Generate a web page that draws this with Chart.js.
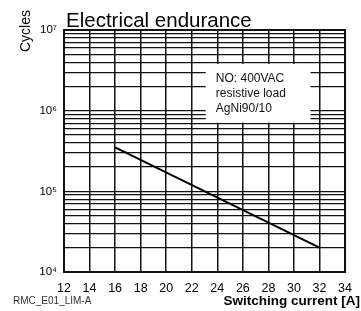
<!DOCTYPE html>
<html>
<head>
<meta charset="utf-8">
<script src="https://cdn.jsdelivr.net/npm/chart.js@4"></script>
<style>
  body { margin: 0; background: #fff; }
  #wrap { width: 361px; height: 311px; }
</style>
</head>
<body>
<div id="wrap"><canvas id="myChart" width="361" height="311"></canvas></div>
<script>
const currentA = [16, 32]
const cycles = [350000, 20000]
const xTicks = [12, 14, 16, 18, 20, 22, 24, 26, 28, 30, 32, 34]
const decades = [1e4, 1e5, 1e6, 1e7]
const noteLines = ['NO: 400VAC', 'resistive load', 'AgNi90/10']
const sup = { '4': '\u2074', '5': '\u2075', '6': '\u2076', '7': '\u2077' }

// gridline values 1..9 in every decade
const yGrid = []
decades.forEach((d, i) => {
  if (i === decades.length - 1) { yGrid.push(d); return }
  for (let m = 1; m < 10; m++) yGrid.push(m * d)
})

const extras = {
  id: 'extras',
  beforeDatasetsDraw(chart) {
    const ctx = chart.ctx
    const x = chart.scales.x
    const y = chart.scales.y
    // white note box over the grid
    const bx = x.getPixelForValue(23.1), by = y.getPixelForValue(3.8e6)
    const bw = x.getPixelForValue(31.3) - bx, bh = y.getPixelForValue(7.1e5) - by
    ctx.save()
    ctx.fillStyle = '#fff'
    ctx.fillRect(bx, by, bw, bh)
    ctx.fillStyle = '#111'
    ctx.font = '12px "Liberation Sans", Arial, sans-serif'
    ctx.textBaseline = 'middle'
    noteLines.forEach((t, i) => ctx.fillText(t, bx + 10, by + 15 + i * 14.7))
    ctx.restore()
  },
  afterDraw(chart) {
    const ctx = chart.ctx
    const a = chart.chartArea
    ctx.save()
    ctx.strokeStyle = '#111'
    ctx.lineWidth = 2
    ctx.strokeRect(a.left, a.top, a.right - a.left, a.bottom - a.top)
    ctx.fillStyle = '#000'
    ctx.textBaseline = 'alphabetic'
    ctx.font = '20.5px "Liberation Sans", Arial, sans-serif'
    ctx.fillText('Electrical endurance', 66, 27)
    ctx.font = 'bold 13.5px "Liberation Sans", Arial, sans-serif'
    ctx.textAlign = 'right'
    ctx.fillText('Switching current [A]', 360, 305)
    ctx.textAlign = 'left'
    ctx.fillStyle = '#333'
    ctx.font = '10px "Liberation Sans", Arial, sans-serif'
    ctx.fillText('RMC_E01_LIM-A', 13, 304)
    ctx.fillStyle = '#000'
    ctx.translate(30, 31)
    ctx.rotate(-Math.PI / 2)
    ctx.textAlign = 'center'
    ctx.font = '14px "Liberation Sans", Arial, sans-serif'
    ctx.fillText('Cycles', 0, 0)
    ctx.restore()
  }
}

const chart = document.getElementById('myChart')
new Chart(chart, {
  type: 'scatter',
  data: {
    datasets: [{
      data: currentA.map((c, i) => ({ x: c, y: cycles[i] })),
      showLine: true,
      borderColor: '#000',
      borderWidth: 2,
      pointRadius: 0
    }]
  },
  options: {
    responsive: false,
    animation: false,
    layout: { padding: { top: 30, right: 13, left: 0, bottom: 0 } },
    plugins: { legend: { display: false }, tooltip: { enabled: false } },
    scales: {
      x: {
        type: 'linear',
        min: 12,
        max: 34,
        afterBuildTicks: (s) => { s.ticks = xTicks.map(v => ({ value: v })) },
        afterFit: (s) => { s.height = 39 },
        grid: { color: '#111', lineWidth: 1.5, drawTicks: false },
        border: { display: false },
        ticks: {
          padding: 9,
          color: '#000',
          font: { family: '"Liberation Sans", Arial, sans-serif', size: 12.5 },
          maxRotation: 0,
          autoSkip: false
        }
      },
      y: {
        type: 'logarithmic',
        min: 1e4,
        max: 1e7,
        afterBuildTicks: (s) => { s.ticks = yGrid.map(v => ({ value: v })) },
        afterFit: (s) => { s.width = 64 },
        grid: { color: '#111', lineWidth: 1.2, drawTicks: false },
        border: { display: false },
        ticks: {
          padding: 7,
          color: '#000',
          autoSkip: false,
          font: { family: '"Liberation Sans", Arial, sans-serif', size: 11.5 },
          callback: (v) => {
            const e = Math.round(Math.log10(v))
            return Math.abs(v - Math.pow(10, e)) < 1 ? '10' + sup[String(e)] : ''
          }
        }
      }
    }
  },
  plugins: [extras]
})
</script>
</body>
</html>
